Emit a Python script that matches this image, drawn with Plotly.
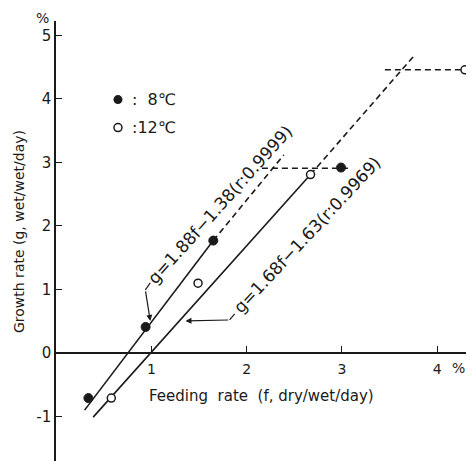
import plotly.graph_objects as go

# ---- data ----
f_8c = [0.34, 0.94, 1.65, 2.99]
g_8c = [-0.71, 0.41, 1.77, 2.92]
f_12c = [0.58, 1.49, 2.67, 4.29]
g_12c = [-0.71, 1.10, 2.81, 4.46]

fit8_solid_f = [0.30, 1.65]
fit8_solid_g = [-0.90, 1.77]
fit8_dash_f = [1.65, 2.39]
fit8_dash_g = [1.77, 3.12]
plat8_f = [2.16, 3.08]
plat8_g = [2.91, 2.91]

fit12_solid_f = [0.39, 2.67]
fit12_solid_g = [-1.01, 2.81]
fit12_dash_f = [2.67, 3.75]
fit12_dash_g = [2.81, 4.67]
plat12_f = [3.45, 4.37]
plat12_g = [4.46, 4.46]

x_ticks = [1, 2, 3, 4]
x_ticklabels = ["1", "2", "3", "4"]
y_ticks = [-1, 0, 1, 2, 3, 4, 5]
y_ticklabels = ["-1", "0", "1", "2", "3", "4", "5"]

eq_8c = "g=1.88f\u22121.38(r:0.9999)"
eq_12c = "g=1.68f\u22121.63(r:0.9969)"
legend_labels = [":  8\u2103", ":12\u2103"]
x_title = "Feeding\u00a0 rate\u00a0 (f, dry/wet/day)"
y_title = "Growth rate (g, wet/wet/day)"

FONT = "DejaVu Sans"
INK = "#1a1a1a"

fig = go.Figure()

def line(xs, ys, dash=None, width=1.6):
    fig.add_trace(go.Scatter(x=xs, y=ys, mode="lines",
                             line=dict(color=INK, width=width, dash=dash),
                             showlegend=False, hoverinfo="skip"))

line(fit8_solid_f, fit8_solid_g)
line(fit8_dash_f, fit8_dash_g, dash="6px,4px")
line(plat8_f, plat8_g, dash="6px,4px")
line(fit12_solid_f, fit12_solid_g)
line(fit12_dash_f, fit12_dash_g, dash="6px,4px")
line(plat12_f, plat12_g, dash="6px,4px")

fig.add_trace(go.Scatter(x=f_8c, y=g_8c, mode="markers", cliponaxis=False,
                         marker=dict(symbol="circle", size=9, color=INK,
                                     line=dict(color=INK, width=1)),
                         showlegend=False, hoverinfo="skip"))
fig.add_trace(go.Scatter(x=f_12c, y=g_12c, mode="markers", cliponaxis=False,
                         marker=dict(symbol="circle", size=8, color="white",
                                     line=dict(color=INK, width=1.5)),
                         showlegend=False, hoverinfo="skip"))

# legend symbols
fig.add_trace(go.Scatter(x=[0.65], y=[3.99], mode="markers",
                         marker=dict(symbol="circle", size=9, color=INK),
                         showlegend=False, hoverinfo="skip"))
fig.add_trace(go.Scatter(x=[0.65], y=[3.55], mode="markers",
                         marker=dict(symbol="circle", size=8, color="white",
                                     line=dict(color=INK, width=1.5)),
                         showlegend=False, hoverinfo="skip"))

annotations = []
annotations.append(dict(x=0.78, y=3.99, xref="x", yref="y", text=legend_labels[0],
                        showarrow=False, xanchor="left", yanchor="middle",
                        font=dict(family=FONT, size=16, color=INK)))
annotations.append(dict(x=0.78, y=3.55, xref="x", yref="y", text=legend_labels[1],
                        showarrow=False, xanchor="left", yanchor="middle",
                        font=dict(family=FONT, size=16, color=INK)))

# equations
annotations.append(dict(x=1.716, y=2.334, xref="x", yref="y", text=eq_8c,
                        showarrow=False, textangle=-48,
                        xanchor="center", yanchor="middle",
                        font=dict(family=FONT, size=17, color=INK)))
annotations.append(dict(x=2.632, y=1.861, xref="x", yref="y", text=eq_12c,
                        showarrow=False, textangle=-47,
                        xanchor="center", yanchor="middle",
                        font=dict(family=FONT, size=17, color=INK)))

# leader arrows
annotations.append(dict(x=0.989, y=0.505, ax=0.937, ay=0.994, xref="x", yref="y",
                        axref="x", ayref="y", text="", showarrow=True,
                        arrowhead=2, arrowsize=1, arrowwidth=1.2, arrowcolor=INK))
annotations.append(dict(x=1.358, y=0.505, ax=1.821, ay=0.520, xref="x", yref="y",
                        axref="x", ayref="y", text="", showarrow=True,
                        arrowhead=2, arrowsize=1, arrowwidth=1.2, arrowcolor=INK))

# page body has an 8px margin, so the figure is offset by 8px; compensate
L, T, W, H = 48, 13, 466, 453
PW, PH = W - L - 7, H - T
def px(xp):  # page x -> paper fraction
    return (xp - 8 - L) / PW
def py(yp):  # page y -> paper fraction
    return 1 - (yp - 8 - T) / PH

# percent marks
annotations.append(dict(x=px(42), y=py(18), xref="paper", yref="paper", text="%",
                        showarrow=False, xanchor="center", yanchor="middle",
                        font=dict(family=FONT, size=14, color=INK)))
annotations.append(dict(x=4.22, y=-0.24, xref="x", yref="y", text="%",
                        showarrow=False, xanchor="center", yanchor="middle",
                        font=dict(family=FONT, size=14, color=INK)))

# axis titles
annotations.append(dict(x=px(261), y=py(396), xref="paper", yref="paper",
                        text=x_title, showarrow=False,
                        xanchor="center", yanchor="middle",
                        font=dict(family=FONT, size=15, color=INK)))
annotations.append(dict(x=px(19), y=py(232), xref="paper", yref="paper",
                        text=y_title, showarrow=False, textangle=-90,
                        xanchor="center", yanchor="middle",
                        font=dict(family=FONT, size=14, color=INK)))

shapes = [
    dict(type="line", xref="x", yref="y", x0=0.989, y0=1.104, x1=0.937, y1=0.994,
         line=dict(color=INK, width=1.2)),
    dict(type="line", xref="x", yref="y", x0=1.874, y0=0.615, x1=1.821, y1=0.520,
         line=dict(color=INK, width=1.2)),
]

ymin, ymax = -1.701, 5.228
xmax = PW / 95.33
fig.update_layout(
    width=W, height=H, autosize=False,
    margin=dict(l=L, r=7, t=T, b=0, pad=0, autoexpand=False),
    paper_bgcolor="white", plot_bgcolor="white",
    annotations=annotations, shapes=shapes,
    xaxis=dict(range=[0, xmax], anchor="free", position=(0 - ymin) / (ymax - ymin),
               automargin=False,
               showline=True, linecolor=INK, linewidth=1.6,
               tickmode="array", tickvals=x_ticks, ticktext=x_ticklabels,
               ticks="inside", ticklen=6, tickwidth=1.4, tickcolor=INK,
               ticklabelstandoff=3,
               tickfont=dict(family=FONT, size=14, color=INK),
               showgrid=False, zeroline=False),
    yaxis=dict(range=[ymin, ymax], automargin=False,
               showline=True, linecolor=INK, linewidth=1.6,
               tickmode="array", tickvals=y_ticks, ticktext=y_ticklabels,
               ticks="inside", ticklen=6, tickwidth=1.4, tickcolor=INK,
               tickfont=dict(family=FONT, size=15, color=INK),
               showgrid=False, zeroline=False),
)

fig.write_html("out.html")
